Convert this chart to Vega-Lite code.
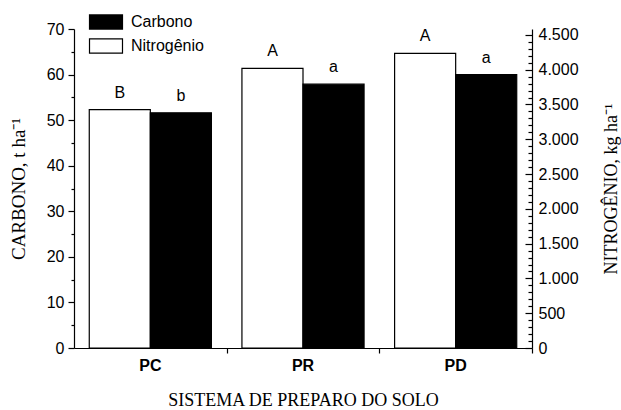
{
  "$schema": "https://vega.github.io/schema/vega-lite/v6.json",
  "width": 458,
  "height": 319,
  "autosize": {"type": "none"},
  "padding": {"left": 74, "top": 29, "right": 89, "bottom": 62},
  "background": "white",
  "config": {
    "view": {"stroke": null},
    "axis": {"grid": false, "domainColor": "black", "tickColor": "black", "labelColor": "black", "titleColor": "black", "labelFont": "Liberation Sans", "labelFontSize": 16, "titleFont": "Liberation Serif", "titleFontWeight": "normal", "domainWidth": 1.2, "tickWidth": 1.2}
  },
  "data": {
    "values": [
      {"sistema": "PC", "serie": "Nitrogênio", "valor": 3425, "letra": "B"},
      {"sistema": "PC", "serie": "Carbono", "valor": 51.6, "letra": "b"},
      {"sistema": "PR", "serie": "Nitrogênio", "valor": 4020, "letra": "A"},
      {"sistema": "PR", "serie": "Carbono", "valor": 57.9, "letra": "a"},
      {"sistema": "PD", "serie": "Nitrogênio", "valor": 4235, "letra": "A"},
      {"sistema": "PD", "serie": "Carbono", "valor": 60.0, "letra": "a"}
    ]
  },
  "encoding": {
    "x": {
      "field": "sistema", "type": "nominal", "sort": ["PC", "PR", "PD"],
      "scale": {"paddingInner": 0.2, "paddingOuter": 0.1},
      "axis": {"labelAngle": 0, "labelFontWeight": "bold", "labelFontSize": 16, "bandPosition": 1.13, "tickSize": 5, "labelPadding": 4, "titleFontSize": 18, "titlePadding": 18},
      "title": "SISTEMA DE PREPARO DO SOLO"
    },
    "xOffset": {"field": "serie", "type": "nominal", "scale": {"domain": ["Nitrogênio", "Carbono"], "paddingInner": 0, "paddingOuter": 0}}
  },
  "layer": [
    {
      "transform": [{"filter": "datum.serie === 'Nitrogênio'"}],
      "encoding": {
        "y": {
          "field": "valor", "type": "quantitative",
          "scale": {"domain": [0, 4585], "nice": false, "zero": true},
          "axis": {
            "orient": "right",
            "values": [0,100,200,300,400,500,600,700,800,900,1000,1100,1200,1300,1400,1500,1600,1700,1800,1900,2000,2100,2200,2300,2400,2500,2600,2700,2800,2900,3000,3100,3200,3300,3400,3500,3600,3700,3800,3900,4000,4100,4200,4300,4400,4500],
            "labelExpr": "datum.value % 500 === 0 ? replace(format(datum.value, ','), ',', '.') : ''",
            "tickSize": {"condition": {"test": "datum.value % 500 === 0", "value": -7}, "value": -4},
            "labelPadding": 13,
            "title": "NITROGÊNIO, kg ha⁻¹",
            "titleFontSize": 18,
            "titleAngle": 270,
            "titleBaseline": "top",
            "titlePadding": 24
          }
        }
      },
      "layer": [
        {
          "mark": {"type": "bar", "stroke": "black", "strokeWidth": 1.2},
          "encoding": {
            "fill": {"field": "serie", "type": "nominal", "scale": {"domain": ["Carbono", "Nitrogênio"], "range": ["black", "white"]},
              "legend": {"title": null, "orient": "none", "legendX": 23, "legendY": -16, "padding": 0, "symbolType": "M-2,-0.86H2V0.86H-2Z", "symbolSize": 272, "symbolStrokeColor": "black", "symbolStrokeWidth": 1.2, "labelFont": "Liberation Sans", "labelFontSize": 16, "labelColor": "black", "labelOffset": 16, "rowPadding": 4}}
          }
        },
        {
          "mark": {"type": "text", "baseline": "bottom", "dy": -9, "font": "Liberation Sans", "fontSize": 16, "color": "black"},
          "encoding": {"text": {"field": "letra"}}
        }
      ]
    },
    {
      "transform": [{"filter": "datum.serie === 'Carbono'"}],
      "encoding": {
        "y": {
          "field": "valor", "type": "quantitative",
          "scale": {"domain": [0, 70], "nice": false, "zero": true},
          "axis": {
            "orient": "left",
            "values": [0,5,10,15,20,25,30,35,40,45,50,55,60,65,70],
            "labelExpr": "datum.value % 10 === 0 ? datum.label : ''",
            "tickSize": {"condition": {"test": "datum.value % 10 === 0", "value": 6}, "value": 3},
            "labelPadding": 4,
            "title": "CARBONO, t ha⁻¹",
            "titleFontSize": 19,
            "titlePadding": 18
          }
        }
      },
      "layer": [
        {
          "mark": {"type": "bar", "stroke": "black", "strokeWidth": 1.2},
          "encoding": {
            "fill": {"field": "serie", "type": "nominal", "scale": {"domain": ["Carbono", "Nitrogênio"], "range": ["black", "white"]}}
          }
        },
        {
          "mark": {"type": "text", "baseline": "bottom", "dy": -9, "font": "Liberation Sans", "fontSize": 16, "color": "black"},
          "encoding": {"text": {"field": "letra"}}
        }
      ]
    }
  ],
  "resolve": {"scale": {"y": "independent"}}
}
